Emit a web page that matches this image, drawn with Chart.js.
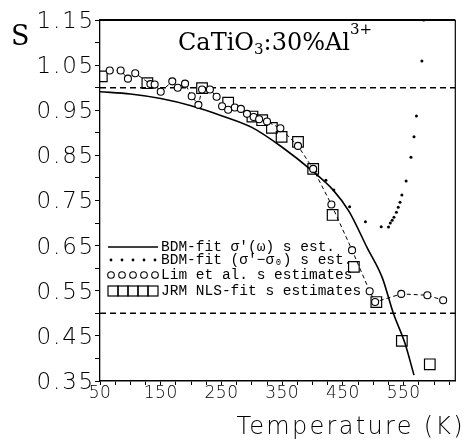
<!DOCTYPE html>
<html>
<head>
<meta charset="utf-8">
<script src="https://cdn.jsdelivr.net/npm/chart.js@4.4.1/dist/chart.umd.min.js"></script>
<style>
html, body { margin: 0; padding: 0; background: #fff; }
</style>
</head>
<body>
<canvas id="plot" width="464" height="444"></canvas>
<script>
// axis ranges and tick labels
const tempRange = [50, 635];
const sRange = [0.35, 1.15];
const xTickLabels = ['50', '150', '250', '350', '450', '550'];
const yTickLabels = ['1.15', '1.05', '0.95', '0.85', '0.75', '0.65', '0.55', '0.45', '0.35'];
const refLevels = [1.0, 0.5];

// BDM-fit sigma'(w) s estimate (solid)
const fitTemp = [50, 100, 150, 200, 250, 300, 350, 400, 434, 460, 490, 515, 533, 552, 567];
const fitS = [0.991, 0.986, 0.976, 0.960, 0.938, 0.912, 0.868, 0.815, 0.773, 0.726, 0.645, 0.578, 0.500, 0.434, 0.363];

// BDM-fit (sigma'-sigma0) s estimate (dots)
const dotTemp = [405, 422, 435, 461, 487, 513, 525, 528, 531, 534, 538, 541, 544, 547, 554, 562, 567, 571, 580, 583];
const dotS = [0.815, 0.795, 0.773, 0.736, 0.703, 0.692, 0.691, 0.700, 0.706, 0.713, 0.724, 0.735, 0.746, 0.762, 0.793, 0.846, 0.891, 0.937, 1.059, 1.15];

// Lim et al. s estimates (circles, dashed)
const limTemp = [66, 84, 96, 108, 133, 140, 150, 169, 178, 190, 201, 212, 218, 231, 242, 251, 261, 272, 282, 292, 303, 312, 325, 347, 376, 401, 431, 465, 494, 503, 546, 589, 615];
const limS = [1.038, 1.038, 1.020, 1.032, 1.008, 1.007, 0.991, 1.014, 1.000, 1.009, 0.981, 0.962, 0.996, 0.996, 0.980, 0.959, 0.951, 0.956, 0.953, 0.942, 0.935, 0.930, 0.925, 0.910, 0.871, 0.820, 0.741, 0.640, 0.549, 0.525, 0.543, 0.540, 0.529];

// JRM NLS-fit s estimates (squares)
const jrmTemp = [53, 128, 218, 261, 301, 317, 333, 349, 376, 401, 433, 468, 505, 547, 593];
const jrmS = [1.025, 1.010, 0.999, 0.967, 0.936, 0.928, 0.911, 0.891, 0.880, 0.820, 0.718, 0.603, 0.525, 0.439, 0.387];

const legendLabels = [
    "BDM-fit \u03c3'(\u03c9) s est.",
    "BDM-fit (\u03c3'\u2212\u03c3\u2080) s est.",
    "Lim et al. s estimates",
    "JRM NLS-fit s estimates"
];

const toPoints = (xs, ys) => xs.map((x, i) => ({ x: x, y: ys[i] }));

const xTickValues = [];
for (let v = tempRange[0]; v < tempRange[1]; v += 25) xTickValues.push(v);
const yTickValues = [];
for (let v = 35; v <= 115; v += 5) yTickValues.push(v / 100);

const datasets = [
    {
        data: toPoints(limTemp, limS), showLine: true, borderColor: '#000', borderWidth: 1,
        borderDash: [4, 3], pointRadius: 3.5, pointBackgroundColor: '#fff',
        pointBorderColor: '#000', pointBorderWidth: 1.1
    },
    {
        data: toPoints(jrmTemp, jrmS), showLine: false, pointStyle: 'rect', pointRadius: 7.5,
        pointBackgroundColor: 'rgba(0,0,0,0)', pointBorderColor: '#000', pointBorderWidth: 1.2
    },
    {
        data: toPoints(dotTemp, dotS), showLine: false, pointRadius: 1.5,
        pointBackgroundColor: '#000', pointBorderWidth: 0
    },
    {
        data: toPoints(fitTemp, fitS), showLine: true, borderColor: '#000', borderWidth: 1.6,
        pointRadius: 0, cubicInterpolationMode: 'monotone'
    }
];
refLevels.forEach(level => {
    datasets.push({
        data: [{ x: tempRange[0], y: level }, { x: tempRange[1], y: level }],
        showLine: true, borderColor: '#000', borderWidth: 1.6, borderDash: [6, 4], pointRadius: 0
    });
});

// letter spacing for the plotter-like tick labels
const spacedLabels = {
    id: 'spacedLabels',
    beforeDraw(chart) {
        const sp = { x: '0.5px', y: '1.8px' };
        Object.keys(sp).forEach(id => {
            const s = chart.scales[id];
            if (s && !s._spaced) {
                const orig = s.drawLabels;
                s.drawLabels = function (area) {
                    const c = this.ctx;
                    const prev = c.letterSpacing;
                    c.letterSpacing = sp[id];
                    orig.call(this, area);
                    c.letterSpacing = prev;
                };
                s._spaced = true;
            }
        });
        const c = chart.ctx;
        c.save();
        c.fillStyle = '#fff';
        c.fillRect(0, 0, chart.width, chart.height);
        c.restore();
    }
};

const extras = {
    id: 'extras',
    afterDraw(chart) {
        const c = chart.ctx;
        const a = chart.chartArea;
        c.save();
        c.strokeStyle = '#000';
        // frame
        c.lineWidth = 2;
        c.beginPath(); c.moveTo(a.left, a.top); c.lineTo(a.right, a.top); c.stroke();
        c.lineWidth = 1.2;
        c.beginPath(); c.moveTo(a.right, a.top); c.lineTo(a.right, a.bottom); c.stroke();

        // annotation
        c.fillStyle = '#000';
        c.textBaseline = 'alphabetic';
        let x = 178;
        const big = '24px "DejaVu Serif"', small = '15px "DejaVu Serif"';
        const parts = [['CaTiO', big, 50], ['3', small, 54], [':30%Al', big, 50], ['3+', small, 34]];
        parts.forEach(p => {
            c.font = p[1];
            c.fillText(p[0], x, p[2]);
            x += c.measureText(p[0]).width;
        });

        // axis titles
        c.font = '27px "DejaVu Serif"';
        c.fillText('S', 11, 45);
        c.font = '200 24px "DejaVu Sans"';
        c.letterSpacing = '2.3px';
        c.textAlign = 'right';
        c.fillText('Temperature (K)', 465, 434);
        c.letterSpacing = '0px';
        c.textAlign = 'left';

        // legend
        const rows = [247, 260, 275, 291];
        const x0 = 108, x1 = 158;
        c.lineWidth = 1.5;
        c.beginPath(); c.moveTo(x0, rows[0]); c.lineTo(x1, rows[0]); c.stroke();
        for (let k = 0; k < 5; k++) {
            const cx = 111 + k * 11;
            c.beginPath(); c.arc(cx, rows[1], 1.4, 0, Math.PI * 2); c.fill();
            c.lineWidth = 1.1;
            c.beginPath(); c.arc(cx, rows[2], 3.3, 0, Math.PI * 2); c.stroke();
            c.lineWidth = 1.2;
            c.strokeRect(x0 + k * 10, rows[3] - 5, 10, 10);
        }
        c.font = '14.5px "Liberation Mono"';
        c.textBaseline = 'middle';
        legendLabels.forEach((t, i) => c.fillText(t, 161, rows[i]));
        c.restore();
    }
};

const ctx = document.getElementById('plot').getContext('2d');
new Chart(ctx, {
    type: 'scatter',
    data: { datasets: datasets },
    options: {
        responsive: false,
        animation: false,
        devicePixelRatio: 1,
        layout: { padding: { top: 20, right: 3, bottom: 0, left: 0 } },
        plugins: { legend: { display: false }, tooltip: { enabled: false } },
        scales: {
            x: {
                type: 'linear', min: tempRange[0], max: tempRange[1],
                afterBuildTicks: s => { s.ticks = xTickValues.map(v => ({ value: v })); },
                afterFit: s => { s.height = 63; s.paddingLeft = 0; s.paddingRight = 0; },
                grid: { drawOnChartArea: false, tickLength: 4, color: '#000', tickWidth: 1 },
                border: { color: '#000', width: 1.5 },
                ticks: {
                    color: '#000', padding: -2, maxRotation: 0, autoSkip: false,
                    font: { family: 'DejaVu Sans', size: 17, weight: 200 },
                    callback: v => xTickLabels.includes(String(v)) ? String(v) : ''
                }
            },
            y: {
                type: 'linear', min: sRange[0], max: sRange[1],
                afterBuildTicks: s => { s.ticks = yTickValues.map(v => ({ value: v })); },
                afterFit: s => { s.width = 100; s.paddingTop = 0; s.paddingBottom = 0; },
                grid: { drawOnChartArea: false, tickLength: 5, color: '#000', tickWidth: 1 },
                border: { color: '#000', width: 1.3 },
                ticks: {
                    color: '#000', padding: 0, autoSkip: false, labelOffset: 2,
                    font: { family: 'DejaVu Sans', size: 23, weight: 200 },
                    callback: v => {
                        const t = v.toFixed(2);
                        return yTickLabels.includes(t) ? t : '';
                    }
                }
            }
        }
    },
    plugins: [spacedLabels, extras]
});
</script>
</body>
</html>
